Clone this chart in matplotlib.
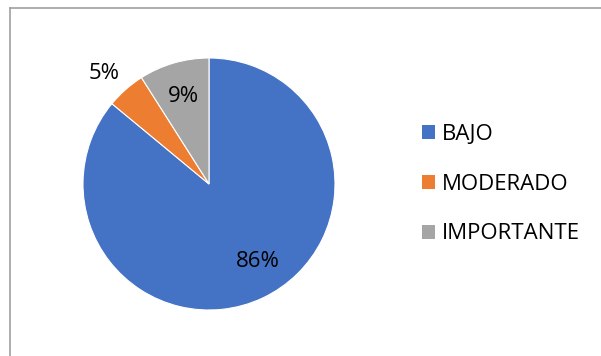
import matplotlib
matplotlib.use("Agg")
import matplotlib.pyplot as plt
from matplotlib.patches import Patch
from matplotlib.lines import Line2D

categories = ["BAJO", "MODERADO", "IMPORTANTE"]
values = [86, 5, 9]
colors = ["#4472C4", "#ED7D31", "#A5A5A5"]

plt.rcParams['font.family'] = ["Open Sans", "DejaVu Sans"]

W, H = 601, 356
fig = plt.figure(figsize=(W / 100, H / 100), dpi=100)

# pie centre (209,184), radius 126 in pixels
cx, cy, r = 209, 184, 126
ax = fig.add_axes([(cx - r) / W, (H - cy - r) / H, 2 * r / W, 2 * r / H])

wedges, texts, autotexts = ax.pie(
    values, colors=colors, startangle=90, counterclock=False,
    autopct=lambda p: f"{p:.0f}%", pctdistance=0.72,
    wedgeprops=dict(linewidth=0.8, edgecolor="white"),
    textprops=dict(fontsize=16, color="black"))
ax.set_xlim(-1, 1)
ax.set_ylim(-1, 1)

# nudge labels to where Excel put them
x, y = autotexts[0].get_position()
autotexts[0].set_position((x + 0.08, y + 0.04))
x, y = autotexts[1].get_position()
autotexts[1].set_position((x / 0.72 * 1.2 - 0.04, y / 0.72 * 1.2 - 0.02))

handles = [Patch(facecolor=c, edgecolor="none") for c in colors]
fig.legend(handles, categories, loc="center left",
           bbox_to_anchor=(411 / W, 1 - 184 / H), frameon=False,
           fontsize=16, handlelength=0.6, handleheight=0.6,
           handletextpad=0.3, labelspacing=1.3, borderpad=0)

# chart border (top and left only visible)
border = dict(color="#A0A0A0", linewidth=1.2, transform=fig.transFigure)
fig.add_artist(Line2D([10 / W, 1], [1 - 8 / H, 1 - 8 / H], **border))
fig.add_artist(Line2D([10 / W, 10 / W], [0, 1 - 8 / H], **border))

fig.savefig("out.png", dpi=100)
